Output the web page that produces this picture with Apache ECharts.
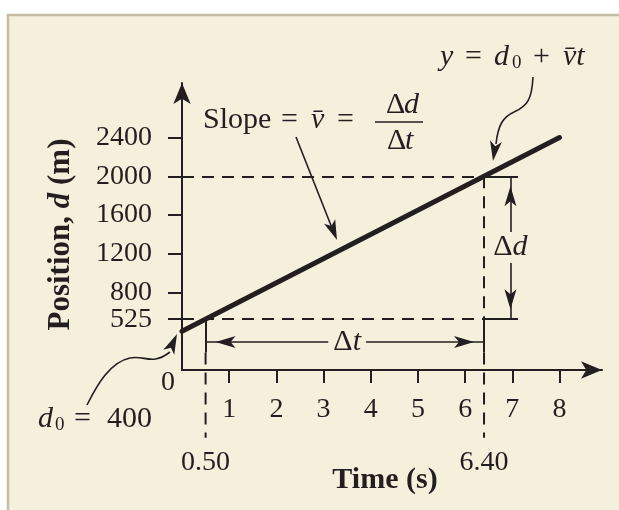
<!DOCTYPE html>
<html><head><meta charset="utf-8">
<script src="https://cdn.jsdelivr.net/npm/echarts@6/dist/echarts.min.js"></script>
<style>html,body{margin:0;padding:0;background:#fff}#c{width:619px;height:510px}</style>
</head><body><div id="c"></div>
<script>
// ---- data ----
const timeValues = [0, 8];            // t (s)
const positionValues = [400, 2400];   // d (m)
const xTickValues = [1, 2, 3, 4, 5, 6, 7, 8];
const yTickValues = [525, 800, 1200, 1600, 2000, 2400];
const markedTimes = [0.50, 6.40];
const markedTimeLabels = ['0.50', '6.40'];
const dLow = 525, dHigh = 2000;
const d0 = 400;
const t1 = markedTimes[0], t2 = markedTimes[1];

// ---- layout constants (data units used for annotation placement) ----
const bracketBottom = 180;   // solid part of vertical guides ends here
const guideBottom = -700;    // dashed guides extend below the time axis
const labelLevel = -960;     // level of the 0.50 / 6.40 labels
const bracketRight = 7.12;
const deltaDX = 6.96;
const deltaTY = 289;
const gapT = [3.1, 3.9];
const gapD = [1105, 1425];
const Y_MAX = 2963;

const SERIF = 'Liberation Serif';
const INK = '#231f20';
const BG = '#f5f0dc';

const solid = {type: 'solid', width: 2, color: INK};
const dashed = {type: [12, 8], width: 2, color: INK};
const thin = {type: 'solid', width: 1.6, color: INK};

function seg(a, b, style, toSym) {
  return [{coord: a, lineStyle: style, symbol: 'none'}, {coord: b, symbol: toSym || 'none'}];
}

const guides = [
  seg([0, dHigh], [t2, dHigh], dashed),
  seg([0, dLow], [t2, dLow], dashed),
  seg([t2, dHigh], [t2, dLow], dashed),
  seg([t2, dHigh], [bracketRight, dHigh], solid),
  seg([t2, dLow], [bracketRight, dLow], solid),
  seg([t1, dLow], [t1, bracketBottom], solid),
  seg([t2, dLow], [t2, bracketBottom], solid),
  // Δt double arrow
  seg([gapT[0], deltaTY], [t1, deltaTY], thin, 'arrow'),
  seg([gapT[1], deltaTY], [t2, deltaTY], thin, 'arrow'),
  // Δd double arrow
  seg([deltaDX, gapD[1]], [deltaDX, dHigh], thin, 'arrow'),
  seg([deltaDX, gapD[0]], [deltaDX, dLow], thin, 'arrow')
];

function arrowHead(tip, dir, L, W, N) {
  const m = Math.hypot(dir[0], dir[1]);
  const u = [dir[0] / m, dir[1] / m];
  const n = [-u[1], u[0]];
  return {type: 'polygon', z: 50, shape: {points: [
    tip,
    [tip[0] - u[0] * L + n[0] * W, tip[1] - u[1] * L + n[1] * W],
    [tip[0] - u[0] * (L - N), tip[1] - u[1] * (L - N)],
    [tip[0] - u[0] * L - n[0] * W, tip[1] - u[1] * L - n[1] * W]
  ]}, style: {fill: INK}};
}
function bez(p0, c1, c2, p1) {
  return {type: 'bezierCurve', z: 50, shape: {x1: p0[0], y1: p0[1], cpx1: c1[0], cpy1: c1[1],
    cpx2: c2[0], cpy2: c2[1], x2: p1[0], y2: p1[1]}, style: {stroke: INK, lineWidth: 1.6, fill: null}};
}
function tx(x, y, s, it, size, align) {
  return {type: 'text', x: x, y: y, z: 50, style: {text: s, fill: INK, fontFamily: SERIF,
    fontSize: size || 30, fontStyle: it ? 'italic' : 'normal', verticalAlign: 'middle', align: align || 'left'}};
}

const graphics = [
  {type: 'rect', z: -100, shape: {x: 8, y: 15, width: 640, height: 520},
   style: {fill: BG, stroke: '#c7bda4', lineWidth: 2.5}},
  // Slope = v̄ = Δd/Δt
  tx(203, 120, 'Slope'),
  tx(281, 120, '='),
  tx(311, 120, 'v\u0304', true),
  tx(337, 120, '='),
  tx(386, 105, 'Δ'), tx(404, 105, 'd', true),
  tx(387, 141, 'Δ'), tx(405, 141, 't', true),
  {type: 'line', z: 50, shape: {x1: 375, y1: 122, x2: 423, y2: 122}, style: {stroke: INK, lineWidth: 1.5}},
  {type: 'line', z: 50, shape: {x1: 296, y1: 137, x2: 332, y2: 228}, style: {stroke: INK, lineWidth: 1.6}},
  arrowHead([337, 240], [41, 103], 20, 6, 5),
  // y = d0 + v̄t
  tx(440, 57, 'y', true),
  tx(465, 57, '='),
  tx(494, 57, 'd', true),
  tx(512, 63, '0', false, 19),
  tx(533, 57, '+'),
  tx(563, 57, 'v\u0304t', true),
  bez([533, 77], [532, 98], [528, 106], [514, 112]),
  bez([514, 112], [503, 117], [498, 125], [496, 144]),
  arrowHead([493, 161], [-3, 20], 20, 6, 5),
  // d0 = 400
  tx(38, 419, 'd', true),
  tx(55, 425, '0', false, 19),
  tx(74, 419, '='),
  tx(107, 419, '400'),
  bez([87, 405], [97, 385], [110, 362], [130, 358]),
  bez([130, 358], [145, 355], [152, 366], [170, 352]),
  arrowHead([177, 334], [9, -20], 20, 6, 5),
  tx(168, 383, '0', false, 28, 'center')
];

const yLabelStyle = {margin: 30, color: INK, fontFamily: SERIF, fontSize: 28,
  hideOverlap: false, showMinLabel: true, showMaxLabel: true, formatter: v => String(v)};
const yTickStyle = {show: true, length: 14, lineStyle: {color: INK, width: 2}};

const chart = echarts.init(document.getElementById('c'), null, {renderer: 'canvas'});
chart.setOption({
  animation: false,
  backgroundColor: '#ffffff',
  textStyle: {fontFamily: SERIF, color: INK},
  grid: {left: 182, top: 83, width: 420, height: 287, containLabel: false, outerBoundsMode: 'none'},
  xAxis: {
    type: 'value', min: 0, max: 8.9, interval: 1,
    axisLine: {show: true, onZero: false, lineStyle: {color: INK, width: 2}, symbol: ['none', 'arrow'], symbolSize: [13, 21]},
    axisTick: {show: true, customValues: xTickValues, length: 13, lineStyle: {color: INK, width: 2}},
    axisLabel: {customValues: xTickValues, margin: 26, color: INK, fontFamily: SERIF, fontSize: 28,
      hideOverlap: false, showMinLabel: true, showMaxLabel: true},
    splitLine: {show: false},
    name: 'Time (s)', nameLocation: 'middle', nameGap: 95,
    nameTextStyle: {fontFamily: SERIF, fontWeight: 'bold', fontSize: 30, color: INK, padding: [0, 14, 0, 0]}
  },
  yAxis: [
    {
      type: 'value', min: 0, max: Y_MAX, position: 'left',
      axisLine: {show: true, onZero: false, lineStyle: {color: INK, width: 2}, symbol: ['none', 'arrow'], symbolSize: [13, 21]},
      axisTick: Object.assign({customValues: yTickValues.slice(1)}, yTickStyle),
      axisLabel: Object.assign({customValues: yTickValues.slice(1)}, yLabelStyle),
      splitLine: {show: false},
      name: 'Position, {i|d} (m)', nameLocation: 'middle', nameRotate: 90, nameGap: 106,
      nameTextStyle: {fontFamily: SERIF, fontWeight: 'bold', fontSize: 31, color: INK, padding: [0, 16, 0, 0],
        rich: {i: {fontStyle: 'italic', fontWeight: 'bold', fontFamily: SERIF, fontSize: 31, color: INK}}}
    },
    {
      type: 'value', min: 0, max: Y_MAX, position: 'left', offset: 0,
      axisLine: {show: false, onZero: false},
      axisTick: Object.assign({customValues: yTickValues.slice(0, 1)}, yTickStyle),
      axisLabel: Object.assign({customValues: yTickValues.slice(0, 1)}, yLabelStyle),
      splitLine: {show: false}
    }
  ],
  graphic: {elements: graphics},
  series: [
    {
      type: 'line', name: 'guides', data: [], silent: true, z: 3,
      markLine: {
        silent: true, animation: false, symbol: 'none', symbolSize: [9, 20],
        symbolOffset: [[0, 0], [0, 10]],
        label: {show: false}, emphasis: {disabled: true},
        data: guides
      },
      markPoint: {
        silent: true, animation: false, symbol: 'circle', symbolSize: 1,
        itemStyle: {color: 'rgba(0,0,0,0)'},
        label: {show: true, position: 'inside', color: INK, fontFamily: SERIF, fontSize: 30,
          rich: {i: {fontStyle: 'italic', fontFamily: SERIF, fontSize: 30, color: INK}}},
        data: [
          {coord: [(gapT[0] + gapT[1]) / 2, deltaTY], value: 0, label: {formatter: 'Δ{i|t}'}},
          {coord: [deltaDX, (gapD[0] + gapD[1]) / 2], value: 0, label: {formatter: 'Δ{i|d}'}}
        ]
      }
    },
    ...markedTimes.map(t => ({
      type: 'line', silent: true, clip: false, z: 3, symbol: 'none',
      data: [[t, bracketBottom], [t, guideBottom]],
      lineStyle: dashed
    })),
    {
      type: 'scatter', silent: true, clip: false, symbol: 'circle', symbolSize: 1,
      itemStyle: {color: 'rgba(0,0,0,0)'},
      data: markedTimes.map((t, i) => [t, labelLevel, markedTimeLabels[i]]),
      label: {show: true, position: 'inside', formatter: p => p.value[2], color: INK, opacity: 1,
        textBorderWidth: 0, textBorderColor: 'transparent', fontFamily: SERIF, fontSize: 28}
    },
    {
      type: 'line', name: 'position', silent: true, z: 5,
      data: timeValues.map((t, i) => [t, positionValues[i]]),
      symbol: 'none', lineStyle: {color: INK, width: 5, cap: 'round'}
    }
  ]
});
</script>
</body></html>
